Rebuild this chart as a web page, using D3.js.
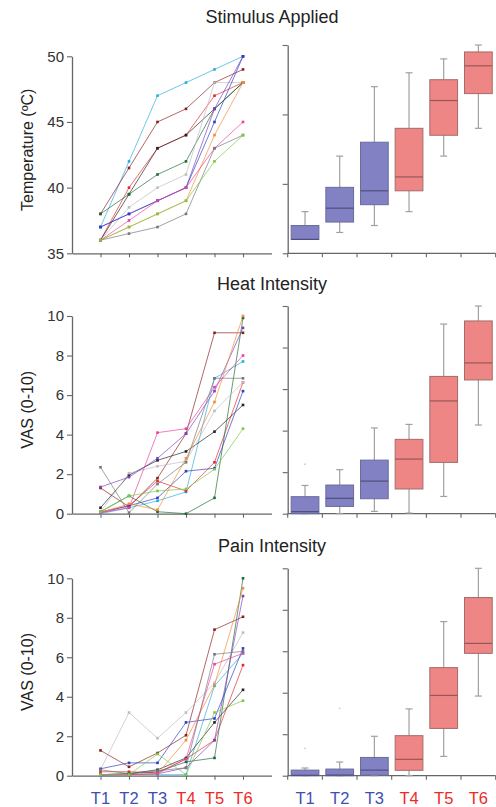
<!DOCTYPE html>
<html><head><meta charset="utf-8">
<script src="https://cdn.jsdelivr.net/npm/d3@7"></script>
<style>
html,body{margin:0;padding:0;background:#fff;}
svg{display:block;font-family:"Liberation Sans",Arial,Helvetica,sans-serif;}
</style></head>
<body><svg id="chart" width="496" height="807"></svg>
<script>
// ---------- DATA ----------
const trials = ["T1","T2","T3","T4","T5","T6"];
const trialGroup = ["low","low","low","high","high","high"];
const panelTitles = ["Stimulus Applied","Heat Intensity","Pain Intensity"];
const yLabels = ["Temperature (ºC)","VAS (0-10)","VAS (0-10)"];
const yDomains = [[35,50],[0,10],[0,10]];
const yTicks = [[35,40,45,50],[0,2,4,6,8,10],[0,2,4,6,8,10]];

const subjectColors = ["#29abe2","#8b1f1f","#e8262b","#222222","#1f6b35","#bdbdbd",
                       "#7d3fc0","#2b3fbf","#f7892f","#ec3f9e","#777777","#7ac943"];

// Temperature per subject (T1..T6)
const tempSubjects = [
  [37,42,47,48,49,50],
  [38,41.5,45,46,48,49],
  [36,40,43,44,47,48],
  [36,39.5,43,44,46,48],
  [38,39.5,41,42,46,48],
  [36,38.5,40,41,48,48],
  [37,38,39,40,46,50],
  [37,38,39,40,45,50],
  [36,37,38,39,44,48],
  [36,37.5,39,40,43,45],
  [36,36.5,37,38,43,44],
  [36,37,38,39,42,44]
];
// Heat intensity VAS per subject
const heatSubjects = [
  [0,0.3,0.65,1.1,6.85,7.7],
  [1.3,0.35,1.8,4.05,9.15,9.15],
  [0.1,0.4,1.65,1.15,2.6,6.65],
  [0.3,1.95,2.7,3.15,4.15,5.5],
  [0.1,0.9,0.1,0.0,0.8,9.9],
  [0.1,2.05,2.4,2.65,5.2,6.65],
  [1.35,1.85,2.8,4.05,6.2,9.4],
  [0.05,0.4,0.8,2.15,2.3,6.2],
  [0.05,0.5,0.2,2.8,5.65,10],
  [0.05,0.3,4.1,4.3,6.4,8.0],
  [2.35,0.05,1.5,2.6,6.85,6.85],
  [0.1,0.9,1.15,1.25,2.25,4.3]
];
// Pain intensity VAS per subject
const painSubjects = [
  [0,0.05,0.05,0.05,4.55,6.2],
  [1.28,0.45,1.15,2.05,7.4,8.05],
  [0.2,0.2,0.15,0.85,1.8,5.6],
  [0.05,0.1,0.3,0.9,2.7,4.35],
  [0.05,0.1,0.2,0.7,0.9,10],
  [0.3,3.2,1.9,3.2,4.7,7.25],
  [0.05,0.05,0.1,0.4,1.8,9.1],
  [0.35,0.65,0.65,2.7,2.9,6.45],
  [0.05,0.05,0.1,1.8,4.6,9.5],
  [0.05,0.05,0.1,0.85,5.65,6.2],
  [0.3,0.1,0.25,0.4,6.15,6.3],
  [0.05,0.05,1.1,0.05,3.2,3.8]
];

// Box statistics: [whiskerLow, q1, median, q3, whiskerHigh]
const tempBoxes = [
  [36,36,36,37,38],
  [36.5,37.25,38.25,39.75,42],
  [37,38.5,39.5,43,47],
  [38,39.5,40.5,44,48],
  [42,43.5,46,47.5,49],
  [44,46.5,48.5,49.5,50]
];
const heatBoxes = [
  [0,0,0.1,0.82,1.36],
  [0,0.35,0.74,1.38,2.12],
  [0.11,0.72,1.57,2.58,4.13],
  [0.03,1.19,2.63,3.58,4.3],
  [0.83,2.47,5.43,6.61,9.13],
  [4.27,6.44,7.26,9.28,10]
];
const painBoxes = [
  [0,0,0.02,0.27,0.37],
  [0,0,0.03,0.32,0.66],
  [0,0.03,0.27,0.88,1.9],
  [0,0.26,0.79,1.93,3.22],
  [0.93,2.28,3.87,5.21,7.43],
  [3.84,5.9,6.38,8.59,10]
];
// Outlier points: [trialIndex, value]
const heatOutliers = [[0,2.38]];
const painOutliers = [[0,1.32],[1,3.25]];

// ---------- LAYOUT ----------
const svg = d3.select("#chart");
const lineData = [tempSubjects, heatSubjects, painSubjects];
const boxData = [tempBoxes, heatBoxes, painBoxes];
const outlierData = [[], heatOutliers, painOutliers];
const panelBottom = [253.3, 513.7, 775.7];
const leftTop = [56.3, 316, 578.3];
const rightTop = [45, 306, 568.3];
const titleY = [23, 290, 552];
const leftAxisX = 72, rightAxisX = 287.7, rightEnd = 495.7;

const colorLow = "#3d4fb5", colorHigh = "#ee2a26";
const fillLow = "#8181c4", fillHigh = "#ee8686";
const axisColor = "#666";

const xL = d3.scalePoint().domain(trials).range([leftAxisX, 271.5]).padding(1);
const xR = d3.scaleBand().domain(trials).range([rightAxisX, rightEnd]).paddingInner(0.2).paddingOuter(0.1);

function styleAxis(g){
  g.selectAll(".domain").attr("stroke", axisColor).attr("stroke-width",1.3);
  g.selectAll(".tick line").attr("stroke", axisColor).attr("stroke-width",1.1);
  g.selectAll(".tick text").attr("fill","#333").style("font-size","15px")
    .style("font-family",'"Liberation Sans",Arial,sans-serif');
}

for (let p = 0; p < 3; p++) {
  const yl = d3.scaleLinear().domain(yDomains[p]).range([panelBottom[p], leftTop[p]]);
  const yr = d3.scaleLinear().domain(yDomains[p]).range([panelBottom[p], rightTop[p]]);

  // title
  svg.append("text").attr("x", 272).attr("y", titleY[p]).attr("text-anchor","middle")
    .attr("fill","#222").style("font-size","18px").text(panelTitles[p]);

  // y label
  svg.append("text").attr("transform", `translate(33,${(panelBottom[p]+leftTop[p])/2 - 5}) rotate(-90)`)
    .attr("text-anchor","middle").attr("fill","#222").style("font-size","16px").text(yLabels[p]);

  // left axes
  svg.append("g").attr("transform", `translate(${leftAxisX},0)`)
    .call(d3.axisLeft(yl).tickValues(yTicks[p]).tickSize(5).tickSizeOuter(0).tickPadding(3).tickFormat(d3.format("d")))
    .call(styleAxis);
  svg.append("g").attr("transform", `translate(0,${panelBottom[p]})`)
    .call(d3.axisBottom(xL).tickSize(4).tickSizeOuter(0).tickFormat(""))
    .call(styleAxis);

  // lines
  const line = d3.line().x((d,i) => xL(trials[i])).y(d => yl(d));
  const subj = lineData[p];
  const gl = svg.append("g");
  subj.forEach((vals, s) => {
    gl.append("path").attr("d", line(vals)).attr("fill","none")
      .attr("stroke", subjectColors[s]).attr("stroke-width", 0.85).attr("stroke-opacity", 0.8);
  });
  subj.forEach((vals, s) => {
    gl.selectAll(null).data(vals).enter().append("rect")
      .attr("x",(d,i)=>xL(trials[i])-1.3).attr("y",d=>yl(d)-1.3)
      .attr("width",2.6).attr("height",2.6).attr("fill",subjectColors[s]);
  });

  // right axes
  svg.append("g").attr("transform", `translate(${rightAxisX},0)`)
    .call(d3.axisLeft(yr).tickValues(yTicks[p]).tickSize(5).tickSizeOuter(0).tickFormat(""))
    .call(styleAxis);
  const gx = svg.append("g");
  gx.append("line").attr("x1", rightAxisX).attr("x2", rightEnd)
    .attr("y1", panelBottom[p]).attr("y2", panelBottom[p]).attr("stroke", axisColor).attr("stroke-width",1.3);
  const bounds = trials.map(t => xR(t) - xR.step()*xR.paddingInner()/2).concat([rightEnd]);
  gx.selectAll(null).data(bounds).enter().append("line")
    .attr("x1",d=>d).attr("x2",d=>d).attr("y1",panelBottom[p]).attr("y2",panelBottom[p]+4)
    .attr("stroke", axisColor).attr("stroke-width",1.1);

  // boxes
  const bw = xR.bandwidth();
  const gb = svg.append("g");
  boxData[p].forEach((b, i) => {
    const cx = xR(trials[i]) + bw/2;
    const low = trialGroup[i] === "low";
    gb.append("line").attr("x1",cx).attr("x2",cx).attr("y1",yr(b[0])).attr("y2",yr(b[4]))
      .attr("stroke","#a0a0a0").attr("stroke-width",1.2);
    [b[0], b[4]].forEach(v => {
      gb.append("line").attr("x1",cx-3.5).attr("x2",cx+3.5).attr("y1",yr(v)).attr("y2",yr(v))
        .attr("stroke","#a0a0a0").attr("stroke-width",1.2);
    });
    gb.append("rect").attr("x", xR(trials[i])).attr("y", yr(b[3]))
      .attr("width", bw).attr("height", Math.max(0.5, yr(b[1]) - yr(b[3])))
      .attr("fill", low ? fillLow : fillHigh)
      .attr("stroke", low ? "#6c6c9c" : "#a56a6a").attr("stroke-width",1);
    gb.append("line").attr("x1", xR(trials[i])).attr("x2", xR(trials[i]) + bw)
      .attr("y1", yr(b[2])).attr("y2", yr(b[2]))
      .attr("stroke", low ? "#4f4f80" : "#9a5656").attr("stroke-width",1.2);
  });
  outlierData[p].forEach(o => {
    gb.append("circle").attr("cx", xR(trials[o[0]]) + bw/2).attr("cy", yr(o[1]))
      .attr("r", 0.9).attr("fill", "#ccc");
  });
}

// x labels
svg.append("g").selectAll("text").data(trials).enter().append("text")
  .attr("x", d => xL(d)).attr("y", 803.5).attr("text-anchor","middle")
  .attr("fill", (d,i) => trialGroup[i] === "low" ? colorLow : colorHigh)
  .style("font-size","16.5px").text(d => d);
svg.append("g").selectAll("text").data(trials).enter().append("text")
  .attr("x", d => xR(d) + xR.bandwidth()/2).attr("y", 803.5).attr("text-anchor","middle")
  .attr("fill", (d,i) => trialGroup[i] === "low" ? colorLow : colorHigh)
  .style("font-size","16.5px").text(d => d);
</script></body></html>
